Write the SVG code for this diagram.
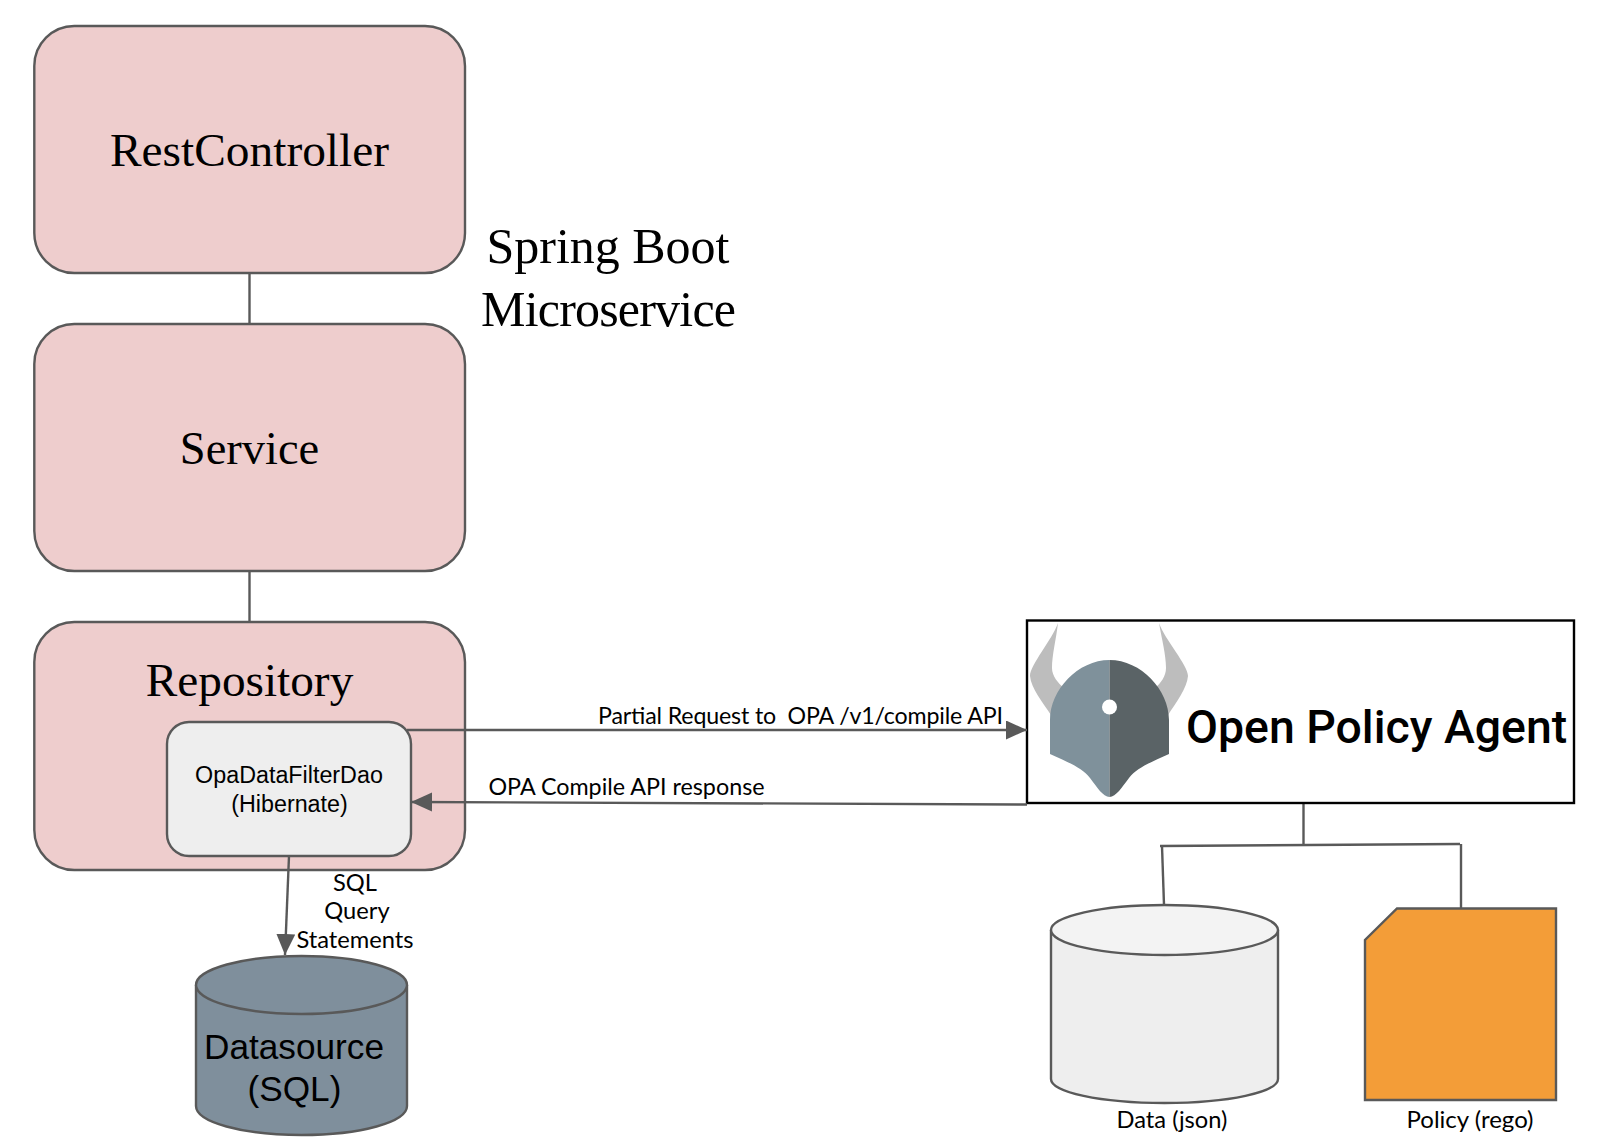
<svg xmlns="http://www.w3.org/2000/svg" width="1608" height="1148" viewBox="0 0 1608 1148">
<style>
.box{fill:#eecdcd;stroke:#595959;stroke-width:2.4}
.ln{fill:none;stroke:#595959;stroke-width:2.4}
.serif{font-family:"Liberation Serif",serif;fill:#000;text-anchor:middle}
.lato{font-family:Lato,"Liberation Sans",sans-serif;font-size:23.7px;fill:#000;text-anchor:middle}
.sans{font-family:"Liberation Sans",Arial,sans-serif;fill:#000;text-anchor:middle}
.cyl{stroke:#595959;stroke-width:2.4}
</style>
<defs>
<marker id="arrow" markerUnits="userSpaceOnUse" markerWidth="23" markerHeight="20" refX="21" refY="9.500" orient="auto"><path d="M0 0L21 9.500L0 19Z" fill="#595959"/></marker>
</defs>
<rect width="1608" height="1148" fill="#fff"/>
<g id="connectors">
<path class="ln" d="M249.500 273V324"/>
<path class="ln" d="M249.500 571V622"/>
<path class="ln" d="M1303.500 802V844"/>
<path class="ln" d="M1160 846L1460 844"/>
<path class="ln" d="M1162 846L1164 905"/>
<path class="ln" d="M1461 844V908"/>
</g>
<g id="rest-controller">
<rect class="box" x="34.300" y="26" width="430.700" height="247" rx="40"/>
<text class="serif" x="249.500" y="166" font-size="47.400">RestController</text>
</g>
<g id="service">
<rect class="box" x="34.300" y="324" width="430.700" height="247" rx="40"/>
<text class="serif" x="249.500" y="464" font-size="46.500">Service</text>
</g>
<g id="repository">
<rect class="box" x="34.300" y="622" width="430.700" height="248" rx="40"/>
<text class="serif" x="249.500" y="695.500" font-size="47.300">Repository</text>
</g>
<g id="spring-boot-label">
<text class="serif" x="608" y="262.500" font-size="50" textLength="243">Spring Boot</text>
<text class="serif" x="608.500" y="326" font-size="50" textLength="255">Microservice</text>
</g>
<g id="opa-data-filter-dao">
<rect class="ln" style="fill:#eeeeee" x="167" y="722" width="244" height="134" rx="22"/>
<text class="sans" x="289" y="783" font-size="23.300">OpaDataFilterDao</text>
<text class="sans" x="289.500" y="812" font-size="23.300">(Hibernate)</text>
</g>
<g id="datasource">
<path class="cyl" fill="#7f8f9c" d="M196 985V1106C196 1122 242 1135 301.500 1135S407 1122 407 1106V985"/>
<ellipse class="cyl" fill="#7f8f9c" cx="301.500" cy="985" rx="105.500" ry="29"/>
<text class="sans" x="294" y="1058.500" font-size="35.200">Datasource</text>
<text class="sans" x="294.500" y="1100.500" font-size="35.200">(SQL)</text>
</g>
<g id="opa">
<rect x="1027" y="620.500" width="547" height="182.500" fill="#fff" stroke="#000" stroke-width="2.400"/>
<path fill="#bdbdbd" d="M1058 623C1052 640 1030 665 1030 676C1031 688 1043 703 1051 715L1064 688C1058 683 1052 676 1052 668C1052 655 1056 640 1058 623Z"/>
<path fill="#bdbdbd" d="M1159 623C1165 640 1188 665 1188 676C1187 688 1176 703 1168 715L1155 688C1161 683 1166 676 1166 668C1166 655 1162 640 1159 623Z"/>
<path fill="#7f919b" d="M1109.500 660C1078 660 1050 690 1050 720V754C1070 763 1082 768 1090 778C1097 787 1103 797 1109.500 797Z"/>
<path fill="#5a6366" d="M1109.500 660C1141 660 1169 690 1169 720V754C1149 763 1137 768 1129 778C1122 787 1116 797 1109.500 797Z"/>
<circle cx="1109.500" cy="707" r="7.500" fill="#fff"/>
<text x="1186" y="743" font-family="Roboto,sans-serif" font-weight="500" font-size="46.400" fill="#000">Open Policy Agent</text>
</g>
<g id="data-json">
<path class="cyl" fill="#eeeeee" d="M1051 930V1079C1051 1092 1100 1103 1164.500 1103S1278 1092 1278 1079V930"/>
<ellipse class="cyl" fill="#f3f3f3" cx="1164.500" cy="930" rx="113.500" ry="25"/>
<text class="lato" x="1172" y="1128">Data (json)</text>
</g>
<g id="policy-rego">
<path class="cyl" fill="#f39d38" d="M1397 908.500H1556V1100H1365V940Z"/>
<text class="lato" x="1470" y="1128" style="font-size:24px">Policy (rego)</text>
</g>
<g id="arrows">
<path class="ln" marker-end="url(#arrow)" d="M407 730H1027"/>
<path class="ln" marker-end="url(#arrow)" d="M1027 804.500L411 802"/>
<path class="ln" marker-end="url(#arrow)" d="M289 856L285 955"/>
</g>
<g id="edge-labels">
<text class="lato" x="800.500" y="724" style="font-size:23.200px" textLength="405" xml:space="preserve">Partial Request to  OPA /v1/compile API</text>
<text class="lato" x="626.500" y="795" style="font-size:23.300px">OPA Compile API response</text>
<text class="lato" x="355" y="891">SQL</text>
<text class="lato" x="357" y="918.500">Query</text>
<text class="lato" x="355" y="948">Statements</text>
</g>
</svg>
